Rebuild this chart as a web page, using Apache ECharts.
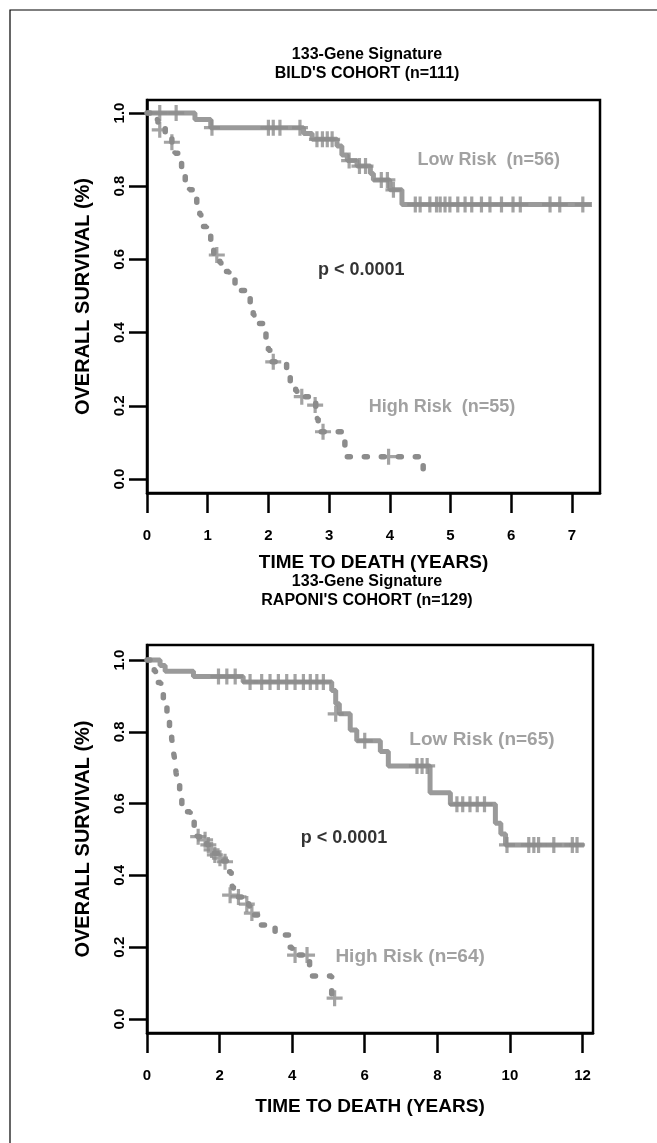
<!DOCTYPE html>
<html>
<head>
<meta charset="utf-8">
<script src="https://cdn.jsdelivr.net/npm/echarts@6/dist/echarts.min.js"></script>
<style>
html,body{margin:0;padding:0;background:#fff;}
#chart{width:657px;height:1143px;}
</style>
</head>
<body>
<div id="chart"></div>
<script>
// ---------- DATA ----------
// Bild's cohort (top panel)
const bildLowT  = [0, 0.79, 1.05, 2.58, 2.72, 3.13, 3.21, 3.30, 3.46, 3.68, 3.73, 4.00, 4.20, 7.33];
const bildLowS  = [1, 0.982, 0.96, 0.944, 0.928, 0.91, 0.885, 0.87, 0.855, 0.835, 0.817, 0.79, 0.75, 0.75];
const bildLowCensT = [0.21, 0.48, 1.07, 2.00, 2.08, 2.19, 2.52, 2.80, 2.89, 2.97, 3.05, 3.33, 3.50, 3.60, 3.86, 3.96, 4.06,
  4.42, 4.50, 4.66, 4.77, 4.83, 4.91, 4.99, 5.12, 5.24, 5.35, 5.51, 5.65, 5.84, 6.03, 6.15, 6.64, 6.80, 7.18];
const bildLowCensS = [1, 1, 0.96, 0.96, 0.96, 0.96, 0.96, 0.928, 0.928, 0.928, 0.928, 0.87, 0.855, 0.855, 0.817, 0.817, 0.79,
  0.75, 0.75, 0.75, 0.75, 0.75, 0.75, 0.75, 0.75, 0.75, 0.75, 0.75, 0.75, 0.75, 0.75, 0.75, 0.75, 0.75, 0.75];

const bildHighT = [0, 0.10, 0.18, 0.30, 0.41, 0.46, 0.51, 0.57, 0.63, 0.70, 0.77, 0.82, 0.87, 0.93, 0.98, 1.05, 1.10, 1.20,
  1.26, 1.35, 1.45, 1.55, 1.64, 1.70, 1.75, 1.83, 1.91, 1.96, 2.00, 2.05, 2.30, 2.36, 2.45, 2.55, 2.69, 2.78, 2.82, 3.26, 4.55];
const bildHighS = [1, 0.982, 0.964, 0.94, 0.92, 0.89, 0.867, 0.84, 0.817, 0.79, 0.771, 0.745, 0.721, 0.69, 0.667, 0.64, 0.612, 0.59,
  0.567, 0.55, 0.535, 0.515, 0.498, 0.47, 0.448, 0.425, 0.404, 0.375, 0.352, 0.32, 0.29, 0.266, 0.24, 0.225, 0.211, 0.165, 0.129, 0.061, 0.0];
const bildHighCensT = [0.21, 0.41, 1.15, 2.08, 2.55, 2.77, 2.90, 3.98];
const bildHighCensS = [0.954, 0.92, 0.612, 0.32, 0.225, 0.202, 0.129, 0.061];

// Raponi's cohort (bottom panel)
const rapLowT = [0, 0.36, 0.50, 1.28, 2.65, 5.09, 5.20, 5.30, 5.60, 5.78, 6.43, 6.65, 7.80, 8.36, 9.60, 9.75, 9.88, 12.04];
const rapLowS = [1, 0.985, 0.969, 0.954, 0.939, 0.915, 0.878, 0.85, 0.805, 0.775, 0.745, 0.705, 0.63, 0.598, 0.545, 0.515, 0.485, 0.485];
const rapLowCensT = [1.97, 2.20, 2.43, 2.84, 3.16, 3.39, 3.62, 3.85, 4.08, 4.31, 4.50, 4.68, 4.86, 5.20, 6.00,
  7.44, 7.58, 7.72, 8.54, 8.70, 8.90, 9.10, 9.30, 9.92, 10.52, 10.66, 10.79, 11.21, 11.72, 11.85];
const rapLowCensS = [0.954, 0.954, 0.954, 0.939, 0.939, 0.939, 0.939, 0.939, 0.939, 0.939, 0.939, 0.939, 0.939, 0.85, 0.775,
  0.705, 0.705, 0.705, 0.598, 0.598, 0.598, 0.598, 0.598, 0.485, 0.485, 0.485, 0.485, 0.485, 0.485, 0.485];

const rapHighT = [0, 0.10, 0.20, 0.30, 0.38, 0.45, 0.55, 0.62, 0.68, 0.72, 0.77, 0.80, 0.84, 0.90, 0.96, 1.05, 1.19, 1.30, 1.38,
  1.65, 1.80, 2.05, 2.25, 2.32, 2.38, 2.80, 2.95, 3.12, 3.53, 3.93, 4.00, 4.48, 5.09, 5.17];
const rapHighS = [1, 0.984, 0.968, 0.937, 0.906, 0.875, 0.843, 0.812, 0.781, 0.75, 0.718, 0.687, 0.656, 0.625, 0.60, 0.577, 0.552, 0.53, 0.508,
  0.485, 0.462, 0.44, 0.41, 0.37, 0.34, 0.315, 0.29, 0.262, 0.234, 0.20, 0.178, 0.12, 0.058, 0.058];
const rapHighCensT = [1.41, 1.60, 1.69, 1.78, 1.87, 2.01, 2.15, 2.29, 2.52, 2.75, 2.89, 4.08, 4.41, 5.17];
const rapHighCensS = [0.508, 0.499, 0.485, 0.471, 0.457, 0.448, 0.438, 0.345, 0.34, 0.32, 0.295, 0.178, 0.178, 0.058];

// tick values
const bildXTicks = [0, 1, 2, 3, 4, 5, 6, 7];
const rapXTicks = [0, 2, 4, 6, 8, 10, 12];
const yTicks = [0, 0.2, 0.4, 0.6, 0.8, 1.0];

// annotation texts (in data coordinates)
const bildNotes = [
  {t: 5.63, s: 0.872, text: 'Low Risk  (n=56)', gray: true},
  {t: 3.53, s: 0.571, text: 'p < 0.0001', gray: false},
  {t: 4.86, s: 0.197, text: 'High Risk  (n=55)', gray: true}
];
const rapNotes = [
  {t: 9.23, s: 0.777, text: 'Low Risk (n=65)', gray: true},
  {t: 5.43, s: 0.504, text: 'p < 0.0001', gray: false},
  {t: 7.25, s: 0.173, text: 'High Risk (n=64)', gray: true}
];

// ---------- CHART ----------
const FONT = '"Liberation Sans", Arial, Helvetica, sans-serif';
const GRAY_LINE = '#9a9a9a';
const GRAY_DOT = '#8c8c8c';
const GRAY_TXT = '#8a8a8a';
const PLUS = 'path://M8,0H12V8H20V12H12V20H8V12H0V8H8Z';

const zip = (a, b) => a.map((v, i) => [v, b[i]]);

function xAxisDef(gi, max, ticks, gap) {
  return {
    gridIndex: gi, type: 'value', min: 0, max: max,
    axisLine: {onZero: false, lineStyle: {color: '#000', width: 2.5}},
    axisTick: {show: true, length: 20, lineStyle: {color: '#000', width: 2.5}, customValues: ticks},
    axisLabel: {customValues: ticks, margin: 35, fontSize: 15, fontWeight: 'bold', color: '#000', fontFamily: FONT},
    splitLine: {show: false},
    name: 'TIME TO DEATH (YEARS)', nameLocation: 'middle', nameGap: gap,
    nameTextStyle: {fontSize: 19, fontWeight: 'bold', color: '#000', fontFamily: FONT}
  };
}
function yAxisDef(gi, min, max) {
  return {
    gridIndex: gi, type: 'value', min: min, max: max,
    axisLine: {onZero: false, lineStyle: {color: '#000', width: 2.5}},
    axisTick: {show: true, length: 18, lineStyle: {color: '#000', width: 2.5}, customValues: yTicks},
    axisLabel: {customValues: yTicks, rotate: 90, margin: 20, fontSize: 15, fontWeight: 'bold', color: '#000', fontFamily: FONT,
      formatter: v => v.toFixed(1)},
    splitLine: {show: false},
    name: 'OVERALL SURVIVAL (%)', nameLocation: 'middle', nameGap: 54, nameRotate: 90,
    nameTextStyle: {fontSize: 20, fontWeight: 'bold', color: '#000', fontFamily: FONT}
  };
}
function lowSeries(gi, t, s) {
  return {type: 'line', xAxisIndex: gi, yAxisIndex: gi, step: 'end', data: zip(t, s), showSymbol: false,
    lineStyle: {color: GRAY_LINE, width: 5}, z: 3, silent: true};
}
function highSeries(gi, t, s) {
  return {type: 'line', xAxisIndex: gi, yAxisIndex: gi, step: 'end', data: zip(t, s), showSymbol: false,
    lineStyle: {color: GRAY_DOT, width: 5.5, type: [3, 14], cap: 'round'}, z: 3, silent: true};
}
function censSeries(gi, t, s) {
  return {type: 'scatter', xAxisIndex: gi, yAxisIndex: gi, data: zip(t, s), symbol: PLUS, symbolSize: 16,
    itemStyle: {color: GRAY_DOT}, z: 4, silent: true};
}
function noteSeries(gi, notes, size, weight) {
  return {type: 'scatter', xAxisIndex: gi, yAxisIndex: gi, symbolSize: 0, silent: true, z: 5,
    data: notes.map(n => ({value: [n.t, n.s],
      label: {show: true, position: 'inside', formatter: n.text, fontFamily: FONT,
        fontSize: n.gray ? size : 18, fontWeight: n.gray ? weight : 'bold', color: n.gray ? GRAY_TXT : '#000'}}))};
}

const chart = echarts.init(document.getElementById('chart'), null, {renderer: 'canvas'});
const option = {
  animation: false,
  backgroundColor: '#fff',
  grid: [
    {left: 147, top: 100, width: 453, height: 393, show: true, borderColor: '#000', borderWidth: 2.5, containLabel: false},
    {left: 147, top: 645, width: 446, height: 388, show: true, borderColor: '#000', borderWidth: 2.5, containLabel: false}
  ],
  xAxis: [xAxisDef(0, 7.463, bildXTicks, 60), xAxisDef(1, 12.29, rapXTicks, 64)],
  yAxis: [yAxisDef(0, -0.0383, 1.0355), yAxisDef(1, -0.039, 1.0418)],
  graphic: [
    {type: 'rect', shape: {x: 10, y: 10, width: 700, height: 1200}, style: {fill: 'none', stroke: '#000', lineWidth: 1.2}, silent: true},
    {type: 'text', x: 367, y: 55, style: {text: '133-Gene Signature', font: 'bold 16px ' + FONT, fill: '#000', textAlign: 'center', textVerticalAlign: 'middle'}},
    {type: 'text', x: 367, y: 74, style: {text: "BILD'S COHORT (n=111)", font: 'bold 16px ' + FONT, fill: '#000', textAlign: 'center', textVerticalAlign: 'middle'}},
    {type: 'text', x: 367, y: 582, style: {text: '133-Gene Signature', font: 'bold 16px ' + FONT, fill: '#000', textAlign: 'center', textVerticalAlign: 'middle'}},
    {type: 'text', x: 367, y: 601, style: {text: "RAPONI'S COHORT (n=129)", font: 'bold 16px ' + FONT, fill: '#000', textAlign: 'center', textVerticalAlign: 'middle'}}
  ],
  series: [
    lowSeries(0, bildLowT, bildLowS),
    highSeries(0, bildHighT, bildHighS),
    censSeries(0, bildLowCensT, bildLowCensS),
    censSeries(0, bildHighCensT, bildHighCensS),
    noteSeries(0, bildNotes, 18, 'bold'),
    lowSeries(1, rapLowT, rapLowS),
    highSeries(1, rapHighT, rapHighS),
    censSeries(1, rapLowCensT, rapLowCensS),
    censSeries(1, rapHighCensT, rapHighCensS),
    noteSeries(1, rapNotes, 19, 'bold')
  ]
};
chart.setOption(option);
</script>
</body>
</html>
